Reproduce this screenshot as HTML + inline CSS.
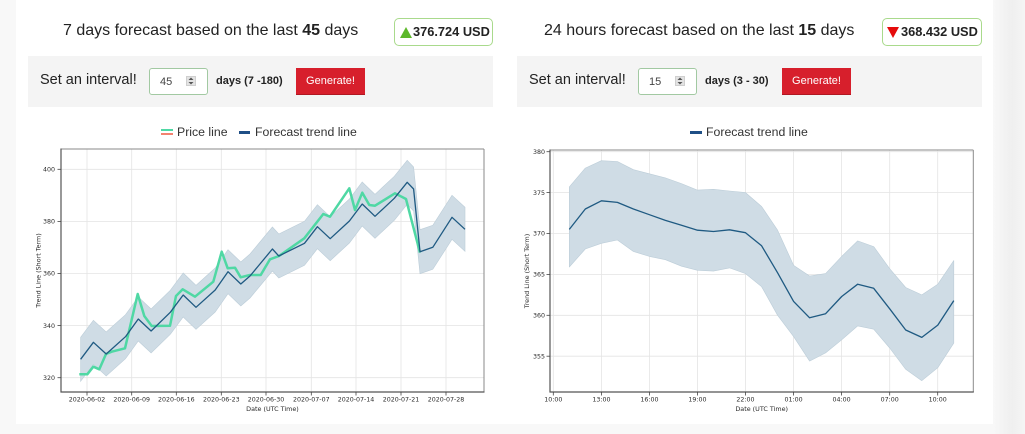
<!DOCTYPE html>
<html><head><meta charset="utf-8">
<style>
*{margin:0;padding:0;box-sizing:border-box}
html,body{width:1025px;height:434px;overflow:hidden;background:#f8f8f8;font-family:"Liberation Sans",Arial,sans-serif;color:#222}
.card{position:absolute;left:16px;top:0;width:977px;height:424px;background:#fff}
.abs{position:absolute;white-space:nowrap}
.hdr{font-size:16px;line-height:18px;top:22px;color:#222}
.badge{position:absolute;top:18px;height:28px;border:1.5px solid #a9da8c;border-radius:5px;background:#fff}
.badge span{position:absolute;top:5px;font-weight:bold;font-size:12.8px;line-height:16px;color:#222}
.bar{position:absolute;top:56px;height:51px;width:465px;background:#f4f4f4}
.lbl{font-size:14.5px;line-height:18px;top:71px;color:#222}
.inp{position:absolute;top:68px;height:27px;border:1px solid #a2c9a2;border-radius:3px;background:#fff}
.inp span{position:absolute;top:6px;font-size:11px;line-height:14px;color:#444}
.spin{position:absolute;top:7px;width:10px;height:10px;background:#e3e3e3;border:1px solid #cfcfcf}
.days{font-size:11px;font-weight:bold;line-height:14px;top:74px;color:#222}
.btn{position:absolute;top:68px;height:27px;background:#d71f2c;border-bottom:1px solid #b01822;color:#fff;font-size:11px;line-height:26px;text-align:center}
.leg{font-size:12.3px;line-height:14px;top:125px;color:#333}
svg text{font-family:"DejaVu Sans",sans-serif;fill:#2a2a2a}
</style></head><body>
<div class="card"></div>
<div style="position:absolute;left:993px;top:0;width:32px;height:434px;background:linear-gradient(90deg,#f8f8f8,#efefef 60%,#f5f5f5)"></div>

<!-- LEFT PANEL -->
<div class="abs hdr" style="left:63px">7 days forecast based on the last <b>45</b> days</div>
<div class="badge" style="left:394px;width:99px">
  <svg style="position:absolute;left:5px;top:8px" width="12" height="11"><polygon points="6,0 12,11 0,11" fill="#5cb82a"/></svg>
  <span style="left:18px">376.724 USD</span>
</div>
<div class="bar" style="left:28px"></div>
<div class="abs lbl" style="left:40px">Set an interval!</div>
<div class="inp" style="left:149px;width:59px"><span style="left:10px">45</span>
  <div class="spin" style="left:36px"><svg width="8" height="8" style="position:absolute;left:0;top:0"><polygon points="4,0.5 6.5,3 1.5,3" fill="#555"/><polygon points="1.5,5 6.5,5 4,7.5" fill="#555"/></svg></div></div>
<div class="abs days" style="left:216px">days (7 -180)</div>
<div class="btn" style="left:296px;width:69px">Generate!</div>

<div class="abs" style="left:161px;top:128.5px;width:12px;height:2.4px;background:#4fd8a4"></div>
<div class="abs" style="left:161px;top:132.8px;width:12px;height:2.6px;background:#f3826f"></div>
<div class="abs leg" style="left:177px">Price line</div>
<div class="abs" style="left:239px;top:131px;width:11px;height:2.6px;background:#1f4f86"></div>
<div class="abs leg" style="left:255px">Forecast trend line</div>

<!-- RIGHT PANEL -->
<div class="abs hdr" style="left:544px">24 hours forecast based on the last <b>15</b> days</div>
<div class="badge" style="left:882px;width:100px">
  <svg style="position:absolute;left:4px;top:8px" width="12" height="11"><polygon points="0,0 12,0 6,11" fill="#e50b0b"/></svg>
  <span style="left:18px">368.432 USD</span>
</div>
<div class="bar" style="left:517px"></div>
<div class="abs lbl" style="left:529px">Set an interval!</div>
<div class="inp" style="left:638px;width:59px"><span style="left:10px">15</span>
  <div class="spin" style="left:36px"><svg width="8" height="8" style="position:absolute;left:0;top:0"><polygon points="4,0.5 6.5,3 1.5,3" fill="#555"/><polygon points="1.5,5 6.5,5 4,7.5" fill="#555"/></svg></div></div>
<div class="abs days" style="left:705px">days (3 - 30)</div>
<div class="btn" style="left:782px;width:69px">Generate!</div>

<div class="abs" style="left:690px;top:131px;width:12px;height:2.6px;background:#1f4f86"></div>
<div class="abs leg" style="left:706px">Forecast trend line</div>

<svg class="abs" style="left:0;top:0" width="1025" height="434" viewBox="0 0 1025 434">
<!-- LEFT CHART -->
<rect x="61" y="149" width="423" height="243" fill="#fff"/>
<g stroke="#e4e4e4" stroke-width="0.8">
<line x1="87" y1="149" x2="87" y2="392"/><line x1="131.7" y1="149" x2="131.7" y2="392"/><line x1="176.3" y1="149" x2="176.3" y2="392"/><line x1="221.3" y1="149" x2="221.3" y2="392"/><line x1="266" y1="149" x2="266" y2="392"/><line x1="311.3" y1="149" x2="311.3" y2="392"/><line x1="356" y1="149" x2="356" y2="392"/><line x1="401" y1="149" x2="401" y2="392"/><line x1="446" y1="149" x2="446" y2="392"/>
<line x1="61" y1="169.3" x2="484" y2="169.3"/><line x1="61" y1="221.4" x2="484" y2="221.4"/><line x1="61" y1="273.5" x2="484" y2="273.5"/><line x1="61" y1="325.6" x2="484" y2="325.6"/><line x1="61" y1="377.7" x2="484" y2="377.7"/>
</g>
<polygon fill="#cfdce5" stroke="#bccdd8" stroke-width="0.6" points="80.6,337.3 93.4,320.3 106.2,332 125.5,314.7 138.3,297 151.1,309 170.3,290.3 183.2,273 196,285.3 215.2,268 228,249.7 240.8,262 250,254 258.3,244 272.4,227 278.8,234 304.5,221.3 317.4,204.7 330.2,216.7 349.4,199 362.2,182 375,194.3 394.3,176.3 407.2,160.3 413.6,167 420,229.7 432.8,225.3 452,195.3 465,207.3 465,251.3 452,239.3 432.8,269.3 420,273.7 413.6,211 407.2,204.3 394.3,220.3 375,238.3 362.2,226 349.4,243 330.2,260.7 317.4,248.7 304.5,265.3 278.8,278 272.4,271 258.3,288 250,298 240.8,306 228,293.7 215.2,312 196,329.3 183.2,317 170.3,334.3 151.1,353 138.3,341 125.5,358.7 106.2,376 93.4,364.3 80.6,381.3"/>
<polyline fill="none" stroke="#4fd8a4" stroke-width="2.5" stroke-linejoin="round" points="79.3,374.3 87.3,374.3 93.3,366.7 99.3,369.3 106,354 111.7,351.7 125,348.3 137.7,294 144.3,316 151.7,326 170,325.7 176,296 182.7,289.3 195,296.7 213.3,281.7 221.7,251.7 227.7,268.3 235,267.7 240.7,277.3 250,275 260.7,275 270,259.3 279,256 304.3,238.3 323.3,214 330,216.7 349.3,188.3 355,210 362.3,192.7 369.3,205 375,205.7 395,193.3 406,199 420,252.7"/>
<polyline fill="none" stroke="#1f5a82" stroke-width="1.3" stroke-linejoin="round" points="80.6,359.3 93.4,342.3 106.2,354 125.5,336.7 138.3,319 151.1,331 170.3,312.3 183.2,295 196,307.3 215.2,290 228,271.7 240.8,284 250,276 258.3,266 272.4,249 278.8,256 304.5,243.3 317.4,226.7 330.2,238.7 349.4,221 362.2,204 375,216.3 394.3,198.3 407.2,182.3 413.6,189 420,251.7 432.8,247.3 452,217.3 465,229.3"/>
<line x1="61" y1="149" x2="484" y2="149" stroke="#8a8a8a" stroke-width="1"/>
<line x1="484" y1="149" x2="484" y2="392" stroke="#8a8a8a" stroke-width="1"/>
<line x1="61" y1="148.5" x2="61" y2="392.5" stroke="#555" stroke-width="1.2"/>
<line x1="60.5" y1="392" x2="484.5" y2="392" stroke="#555" stroke-width="1.2"/>
<g stroke="#444" stroke-width="0.8">
<line x1="87" y1="392" x2="87" y2="395.5"/><line x1="131.7" y1="392" x2="131.7" y2="395.5"/><line x1="176.3" y1="392" x2="176.3" y2="395.5"/><line x1="221.3" y1="392" x2="221.3" y2="395.5"/><line x1="266" y1="392" x2="266" y2="395.5"/><line x1="311.3" y1="392" x2="311.3" y2="395.5"/><line x1="356" y1="392" x2="356" y2="395.5"/><line x1="401" y1="392" x2="401" y2="395.5"/><line x1="446" y1="392" x2="446" y2="395.5"/>
<line x1="57.5" y1="169.3" x2="61" y2="169.3"/><line x1="57.5" y1="221.4" x2="61" y2="221.4"/><line x1="57.5" y1="273.5" x2="61" y2="273.5"/><line x1="57.5" y1="325.6" x2="61" y2="325.6"/><line x1="57.5" y1="377.7" x2="61" y2="377.7"/>
</g>
<g font-size="6.3" text-anchor="middle">
<text x="87" y="401.5">2020-06-02</text><text x="131.7" y="401.5">2020-06-09</text><text x="176.3" y="401.5">2020-06-16</text><text x="221.3" y="401.5">2020-06-23</text><text x="266" y="401.5">2020-06-30</text><text x="311.3" y="401.5">2020-07-07</text><text x="356" y="401.5">2020-07-14</text><text x="401" y="401.5">2020-07-21</text><text x="446" y="401.5">2020-07-28</text>
</g>
<g font-size="6.3" text-anchor="end">
<text x="55" y="171.5">400</text><text x="55" y="223.6">380</text><text x="55" y="275.7">360</text><text x="55" y="327.8">340</text><text x="55" y="379.9">320</text>
</g>
<text x="272.5" y="411" font-size="6.4" text-anchor="middle">Date (UTC Time)</text>
<text transform="translate(40.5,270.5) rotate(-90)" font-size="6.4" text-anchor="middle">Trend Line (Short Term)</text>

<!-- RIGHT CHART -->
<rect x="550" y="150" width="423.3" height="242" fill="#fff"/>
<g stroke="#e4e4e4" stroke-width="0.8">
<line x1="553.3" y1="150" x2="553.3" y2="392"/><line x1="601.4" y1="150" x2="601.4" y2="392"/><line x1="649.4" y1="150" x2="649.4" y2="392"/><line x1="697.5" y1="150" x2="697.5" y2="392"/><line x1="745.5" y1="150" x2="745.5" y2="392"/><line x1="793.6" y1="150" x2="793.6" y2="392"/><line x1="841.6" y1="150" x2="841.6" y2="392"/><line x1="889.7" y1="150" x2="889.7" y2="392"/><line x1="937.7" y1="150" x2="937.7" y2="392"/>
<line x1="550" y1="151.7" x2="973.3" y2="151.7"/><line x1="550" y1="192.6" x2="973.3" y2="192.6"/><line x1="550" y1="233.5" x2="973.3" y2="233.5"/><line x1="550" y1="274.4" x2="973.3" y2="274.4"/><line x1="550" y1="315.3" x2="973.3" y2="315.3"/><line x1="550" y1="356.2" x2="973.3" y2="356.2"/>
</g>
<polygon fill="#cfdce5" stroke="#bccdd8" stroke-width="0.6" stroke-linejoin="round" points="569.3,186.9 585.3,168.1 601.4,160.7 617.4,161.5 633.4,169.7 649.4,173.8 665.4,177.9 681.5,183.6 697.5,190.1 713.5,189.3 729.5,191 745.5,192.6 761.6,206.5 777.6,230.2 793.6,265.4 809.6,276 825.6,273.6 841.7,256.4 857.7,240.9 873.7,246.6 889.7,268.7 905.7,287.5 921.8,294.9 937.8,284.2 953.8,260.5 953.8,343.1 937.8,367.7 921.8,380.7 905.7,369.3 889.7,348 873.7,329.2 857.7,325.9 841.7,339.8 825.6,352.9 809.6,361.1 793.6,336.6 777.6,315.3 761.6,286.7 745.5,273.6 729.5,267.9 713.5,271.1 697.5,270.3 681.5,266.2 665.4,259.7 649.4,256.4 633.4,251.5 617.4,240 601.4,243.3 585.3,249 569.3,267"/>
<polyline fill="none" stroke="#1f5a82" stroke-width="1.3" stroke-linejoin="round" points="569.3,229.4 585.3,209 601.4,200.8 617.4,202.4 633.4,209 649.4,214.7 665.4,220.4 681.5,225.3 697.5,230.2 713.5,231.5 729.5,229.8 745.5,232.7 761.6,245.8 777.6,272.8 793.6,301.4 809.6,317.8 825.6,313.7 841.7,296.5 857.7,284.2 873.7,288.3 889.7,308.8 905.7,330 921.8,337.4 937.8,325.1 953.8,300.6"/>
<line x1="550" y1="150" x2="973.3" y2="150" stroke="#8a8a8a" stroke-width="1"/>
<line x1="973.3" y1="150" x2="973.3" y2="392" stroke="#8a8a8a" stroke-width="1"/>
<line x1="550" y1="149.5" x2="550" y2="392.5" stroke="#555" stroke-width="1.2"/>
<line x1="549.5" y1="392" x2="973.8" y2="392" stroke="#555" stroke-width="1.2"/>
<g stroke="#444" stroke-width="0.8">
<line x1="553.3" y1="392" x2="553.3" y2="395.5"/><line x1="601.4" y1="392" x2="601.4" y2="395.5"/><line x1="649.4" y1="392" x2="649.4" y2="395.5"/><line x1="697.5" y1="392" x2="697.5" y2="395.5"/><line x1="745.5" y1="392" x2="745.5" y2="395.5"/><line x1="793.6" y1="392" x2="793.6" y2="395.5"/><line x1="841.6" y1="392" x2="841.6" y2="395.5"/><line x1="889.7" y1="392" x2="889.7" y2="395.5"/><line x1="937.7" y1="392" x2="937.7" y2="395.5"/>
<line x1="546.5" y1="151.7" x2="550" y2="151.7"/><line x1="546.5" y1="192.6" x2="550" y2="192.6"/><line x1="546.5" y1="233.5" x2="550" y2="233.5"/><line x1="546.5" y1="274.4" x2="550" y2="274.4"/><line x1="546.5" y1="315.3" x2="550" y2="315.3"/><line x1="546.5" y1="356.2" x2="550" y2="356.2"/>
</g>
<g font-size="6.3" text-anchor="middle">
<text x="553.3" y="401.5">10:00</text><text x="601.4" y="401.5">13:00</text><text x="649.4" y="401.5">16:00</text><text x="697.5" y="401.5">19:00</text><text x="745.5" y="401.5">22:00</text><text x="793.6" y="401.5">01:00</text><text x="841.6" y="401.5">04:00</text><text x="889.7" y="401.5">07:00</text><text x="937.7" y="401.5">10:00</text>
</g>
<g font-size="6.3" text-anchor="end">
<text x="545" y="153.9">380</text><text x="545" y="194.8">375</text><text x="545" y="235.7">370</text><text x="545" y="276.6">365</text><text x="545" y="317.5">360</text><text x="545" y="358.4">355</text>
</g>
<text x="761.7" y="411" font-size="6.4" text-anchor="middle">Date (UTC Time)</text>
<text transform="translate(529,271) rotate(-90)" font-size="6.4" text-anchor="middle">Trend Line (Short Term)</text>
</svg>
</body></html>
